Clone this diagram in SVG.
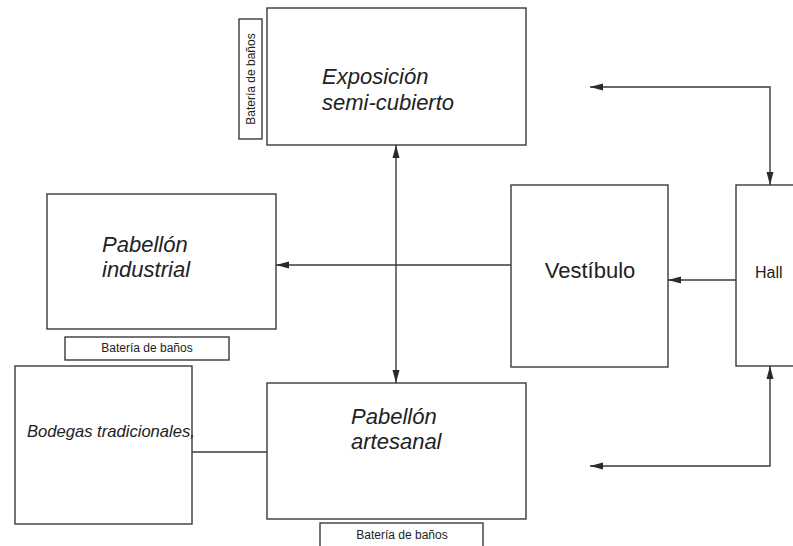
<svg xmlns="http://www.w3.org/2000/svg" width="793" height="546" viewBox="0 0 793 546">
<style>
.box{fill:#fff;stroke:#3a3a3a;stroke-width:1.4}
.ln{fill:none;stroke:#3a3a3a;stroke-width:1.4}
.t{font-family:"Liberation Sans",Arial,sans-serif;fill:#222}
.it{font-style:italic;font-size:22px}
.sm{font-size:12px}
</style>
<defs>
<marker id="ah" markerUnits="userSpaceOnUse" markerWidth="13" markerHeight="8" refX="13" refY="4" orient="auto-start-reverse">
<path d="M0,0.5 L13,4 L0,7.5 z" fill="#2a2a2a"/>
</marker>
</defs>
<rect width="793" height="546" fill="#fff"/>
<g id="connectors">
<line class="ln" x1="396" y1="145" x2="396" y2="383" marker-start="url(#ah)" marker-end="url(#ah)"/>
<line class="ln" x1="511" y1="265" x2="276" y2="265" marker-end="url(#ah)"/>
<line class="ln" x1="736" y1="280" x2="668" y2="280" marker-end="url(#ah)"/>
<polyline class="ln" points="590,87 770,87 770,185" marker-start="url(#ah)" marker-end="url(#ah)"/>
<polyline class="ln" points="770,366 770,466 590,466" marker-start="url(#ah)" marker-end="url(#ah)"/>
<line class="ln" x1="192" y1="452" x2="267" y2="452"/>
</g>
<g id="exposicion">
<rect class="box" x="267" y="8" width="259" height="137"/>
<text class="t it" x="322" y="84">Exposición</text>
<text class="t it" x="322" y="110">semi-cubierto</text>
</g>
<g id="bano-expo">
<rect class="box" x="239" y="19" width="23" height="120"/>
<text class="t sm" transform="translate(255,79) rotate(-90)" text-anchor="middle">Batería de baños</text>
</g>
<g id="industrial">
<rect class="box" x="47" y="194" width="229" height="135"/>
<text class="t it" x="102" y="252">Pabellón</text>
<text class="t it" x="102" y="277">industrial</text>
</g>
<g id="bano-industrial">
<rect class="box" x="65" y="337" width="164" height="23"/>
<text class="t sm" x="147" y="352" text-anchor="middle">Batería de baños</text>
</g>
<g id="vestibulo">
<rect class="box" x="511" y="185" width="157" height="182"/>
<text class="t" x="590" y="278" font-size="22" text-anchor="middle">Vestíbulo</text>
</g>
<g id="hall">
<rect class="box" x="736" y="185" width="70" height="181"/>
<text class="t" x="755" y="278" font-size="16">Hall</text>
</g>
<g id="bodegas">
<rect class="box" x="15" y="366" width="177" height="158"/>
<text class="t" x="27" y="437" font-size="16.6" font-style="italic">Bodegas tradicionales,</text>
</g>
<g id="artesanal">
<rect class="box" x="267" y="383" width="259" height="136"/>
<text class="t it" x="351" y="424">Pabellón</text>
<text class="t it" x="351" y="449">artesanal</text>
</g>
<g id="bano-artesanal">
<rect class="box" x="320" y="523" width="163" height="30"/>
<text class="t sm" x="402" y="539" text-anchor="middle">Batería de baños</text>
</g>
</svg>
